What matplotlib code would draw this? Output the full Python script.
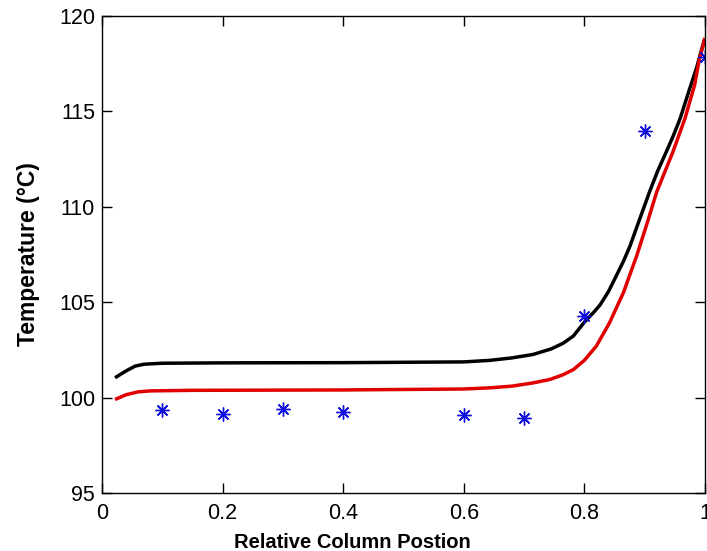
import matplotlib
matplotlib.use("Agg")
import matplotlib.pyplot as plt

plt.rcParams['font.family'] = ['Liberation Sans', 'DejaVu Sans']

# Measured column temperatures
meas_pos = [0.1, 0.2, 0.3, 0.4, 0.6, 0.7, 0.8, 0.9, 1.0]
meas_temp = [99.37, 99.16, 99.42, 99.23, 99.1, 98.93, 104.25, 113.95, 117.83]

# Model profile 1 (black)
pos_a = [0.0216, 0.04, 0.055, 0.07, 0.1, 0.2, 0.4, 0.6, 0.643, 0.68, 0.715,
         0.745, 0.765, 0.782, 0.80, 0.815, 0.826, 0.84, 0.853, 0.865, 0.876,
         0.892, 0.909, 0.922, 0.936, 0.948, 0.959, 0.975, 0.986, 1.0]
temp_a = [101.04, 101.4, 101.65, 101.75, 101.8, 101.82, 101.83, 101.87, 101.95,
          102.08, 102.26, 102.55, 102.85, 103.23, 103.95, 104.45, 104.85,
          105.55, 106.38, 107.15, 107.96, 109.37, 110.85, 111.9, 112.88,
          113.75, 114.63, 116.21, 117.26, 118.84]

# Model profile 2 (red)
pos_b = [0.0216, 0.04, 0.06, 0.08, 0.15, 0.4, 0.6, 0.643, 0.68, 0.715, 0.743,
         0.765, 0.782, 0.80, 0.82, 0.842, 0.865, 0.887, 0.903, 0.92, 0.947,
         0.967, 0.975, 0.983, 0.99, 1.0]
temp_b = [99.9, 100.15, 100.3, 100.35, 100.38, 100.4, 100.45, 100.51, 100.6,
          100.77, 100.95, 101.2, 101.47, 101.95, 102.7, 103.93, 105.51, 107.44,
          109.02, 110.77, 112.88, 114.63, 115.51, 116.38, 117.6, 118.84]

x_ticks = [0, 0.2, 0.4, 0.6, 0.8, 1]
x_tick_labels = ['0', '0.2', '0.4', '0.6', '0.8', '1']
y_ticks = [95, 100, 105, 110, 115, 120]

fig = plt.figure(figsize=(7.07, 5.51), dpi=100)
ax = fig.add_axes([0.1443, 0.1053, 0.8527, 0.8657])

ax.plot(pos_a, temp_a, color='black', lw=2.5, solid_capstyle='butt',
        solid_joinstyle='round')
ax.plot(pos_b, temp_b, color='#e00000', lw=2.5, solid_capstyle='butt',
        solid_joinstyle='round')
ax.plot(meas_pos, meas_temp, linestyle='none', marker=(8, 2, 0),
        markersize=10, markeredgewidth=1.0, color='#1010e0')

ax.set_xlim(0, 1)
ax.set_ylim(95, 120)
ax.set_xticks(x_ticks)
ax.set_xticklabels(x_tick_labels)
ax.set_yticks(y_ticks)
ax.tick_params(direction='in', length=7, width=1, top=True, right=True,
               labelsize=15.5)
ax.tick_params(axis='x', pad=7)
ax.tick_params(axis='y', pad=5)
for s in ax.spines.values():
    s.set_linewidth(1.0)

ax.set_xlabel('Relative Column Postion', fontsize=14.5, fontweight='bold')
ax.xaxis.set_label_coords(0.415, -0.084)
ax.set_ylabel('Temperature (°C)', fontsize=16.5, fontweight='bold', labelpad=14)

fig.savefig('out.png', dpi=100)
